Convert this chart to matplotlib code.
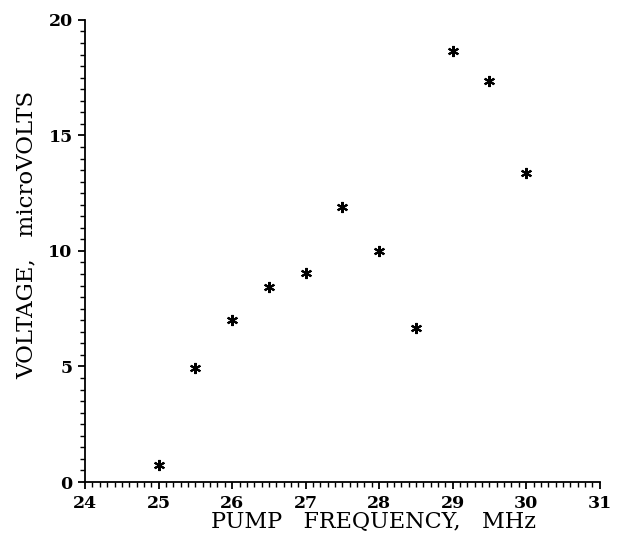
import matplotlib

matplotlib.use("Agg")
import matplotlib.pyplot as plt
from matplotlib.ticker import MultipleLocator

freq_mhz = [25.0, 25.5, 26.0, 26.5, 27.0, 27.5, 28.0, 28.5, 29.0, 29.5, 30.0]
voltage_uv = [0.74, 4.93, 7.0, 8.44, 9.05, 11.9, 10.0, 6.67, 18.66, 17.36, 13.38]
x_ticks = [24, 25, 26, 27, 28, 29, 30, 31]
y_ticks = [0, 5, 10, 15, 20]

plt.rcParams["font.family"] = ["DejaVu Serif"]

fig = plt.figure(figsize=(6.26, 5.37), dpi=100)
ax = fig.add_axes([0.136, 0.1024, 0.822, 0.8606])

ax.plot(freq_mhz, voltage_uv, linestyle="none", marker=(6, 2, 0),
        markersize=8, markeredgewidth=1.5, color="black")

ax.set_xlim(24, 31)
ax.set_ylim(0, 20)
ax.set_xticks(x_ticks)
ax.set_yticks(y_ticks)
ax.xaxis.set_minor_locator(MultipleLocator(0.1))
ax.yaxis.set_minor_locator(MultipleLocator(0.5))

for side in ("top", "right"):
    ax.spines[side].set_visible(False)
for side in ("left", "bottom"):
    ax.spines[side].set_linewidth(1.3)

ax.tick_params(which="major", direction="out", length=5, width=1.3, pad=4)
ax.tick_params(which="minor", direction="out", length=3.5, width=1.0)
for lab in ax.get_xticklabels() + ax.get_yticklabels():
    lab.set_fontweight("bold")
    lab.set_fontsize(12.5)

ax.set_xlabel("PUMP   FREQUENCY,   MHz", fontsize=16)
ax.xaxis.set_label_coords(0.561, -0.063)
ax.set_ylabel("VOLTAGE,   microVOLTS", fontsize=16.5)
ax.yaxis.set_label_coords(-0.092, 0.535)

fig.savefig("out.png", dpi=100)
